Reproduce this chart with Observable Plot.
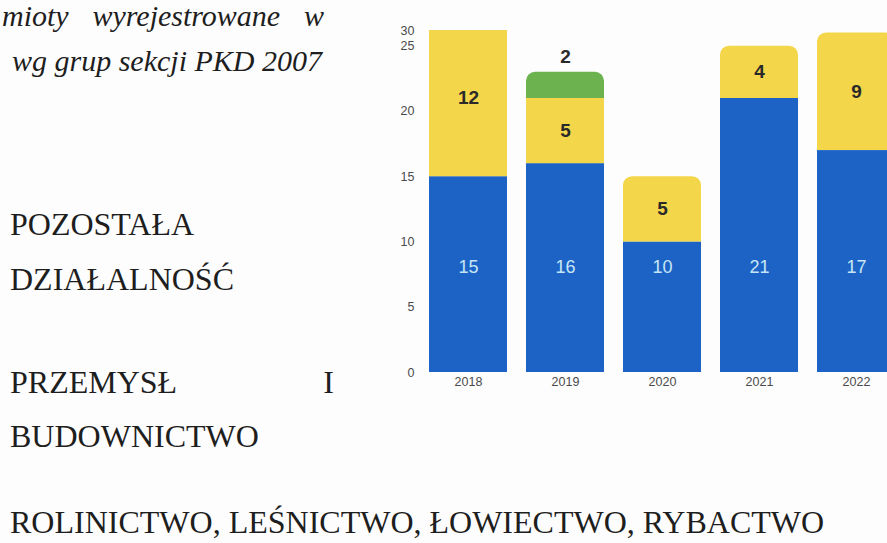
<!DOCTYPE html>
<html>
<head>
<meta charset="utf-8">
<script src="https://cdn.jsdelivr.net/npm/d3@7"></script>
<script src="https://cdn.jsdelivr.net/npm/@observablehq/plot@0.6"></script>
<style>
  html, body { margin: 0; padding: 0; background: #ffffff; }
  #page { position: relative; width: 887px; height: 543px; overflow: hidden; background: #fdfdfd; }
  .t { position: absolute; font-family: "Liberation Serif", "Times New Roman", serif; font-size: 32px; line-height: 1; color: #1e1e1e; white-space: nowrap; }
  .it { font-style: italic; font-size: 30px; }
  .just { display: flex; justify-content: space-between; }
  #chart { position: absolute; left: 380px; top: 0; width: 540px; }
  #chart svg { max-width: none !important; }
</style>
</head>
<body>
<div id="page">
  <div class="t it just" style="left:2px; width:322px; top:7px; line-height:0.6;"><span>mioty</span><span>wyrejestrowane</span><span>w</span></div>
  <div class="t it" style="left:12px; top:46px;">wg grup sekcji PKD 2007</div>
  <div class="t" style="left:10px; top:208px;">POZOSTAŁA</div>
  <div class="t" style="left:10px; top:263px;">DZIAŁALNOŚĆ</div>
  <div class="t just" style="left:10px; width:324px; top:366px;"><span>PRZEMYSŁ</span><span>I</span></div>
  <div class="t" style="left:10px; top:420px;">BUDOWNICTWO</div>
  <div class="t" style="left:10px; top:506px;">ROLINICTWO, LEŚNICTWO, ŁOWIECTWO, RYBACTWO</div>
  <div id="chart"></div>
</div>
<script>
// ---- data ----
const years = ["2018", "2019", "2020", "2021", "2022"];
const pozostala = [15, 16, 10, 21, 17];   // POZOSTAŁA DZIAŁALNOŚĆ (blue)
const przemysl  = [12, 5, 5, 4, 9];       // PRZEMYSŁ I BUDOWNICTWO (yellow)
const rolnictwo = [0, 2, 0, 0, 0];        // ROLNICTWO... (green)
const yTicks = [0, 5, 10, 15, 20, 25, 30];

const seriesNames = ["POZOSTAŁA DZIAŁALNOŚĆ", "PRZEMYSŁ I BUDOWNICTWO", "ROLINICTWO, LEŚNICTWO, ŁOWIECTWO, RYBACTWO"];
const seriesValues = [pozostala, przemysl, rolnictwo];
const seriesColors = ["#1d63c5", "#f4d64a", "#6cb24f"];

// stacked table built from the arrays
const rows = [];
years.forEach((year, i) => {
  let base = 0;
  const segs = [];
  seriesValues.forEach((vals, s) => {
    const v = vals[i];
    if (v > 0) {
      segs.push({year, series: seriesNames[s], s, value: v, y1: base, y2: base + v, mid: base + v / 2});
      base += v;
    }
  });
  segs.forEach((d, k) => { d.top = k === segs.length - 1; rows.push(d); });
});

const yMax = 26.2; // visible top of the (cropped) chart

const chart = Plot.plot({
  width: 538,
  height: 400,
  marginTop: 30,
  marginBottom: 28,
  marginLeft: 38,
  marginRight: 12.5,
  style: {background: "transparent", fontFamily: "Liberation Sans, Arial, sans-serif", maxWidth: "none"},
  x: {type: "band", domain: years, paddingInner: 0.2, paddingOuter: 0.1, label: null},
  y: {domain: [0, yMax], clamp: true, label: null},
  color: {domain: seriesNames, range: seriesColors},
  marks: [
    Plot.axisY({ticks: yTicks, tickSize: 0, tickPadding: 4, fontSize: 12.5, fill: "#4a4a4a", label: null}),
    Plot.axisX({tickSize: 0, tickPadding: 5, fontSize: 12.5, fill: "#4a4a4a", label: null}),
    Plot.barY(rows.filter(d => !d.top || d.y2 > yMax), {x: "year", y1: "y1", y2: "y2", fill: "series"}),
    Plot.barY(rows.filter(d => d.top && d.y2 <= yMax), {x: "year", y1: "y1", y2: "y2", fill: "series", ry1: 9}),
    Plot.text(rows.filter(d => d.s === 0), {x: "year", text: "value", frameAnchor: "bottom", dy: -100, fill: "#c6e6f6", fontSize: 18}),
    Plot.text(rows.filter(d => d.s === 1), {x: "year", y: "mid", text: "value", fill: "#2a2a2a", fontSize: 19, fontWeight: "bold"}),
    Plot.text(rows.filter(d => d.s === 2), {x: "year", y: "y2", text: "value", dy: -15, fill: "#2a2a2a", fontSize: 19, fontWeight: "bold"})
  ]
});
document.getElementById("chart").appendChild(chart);
</script>
</body>
</html>
